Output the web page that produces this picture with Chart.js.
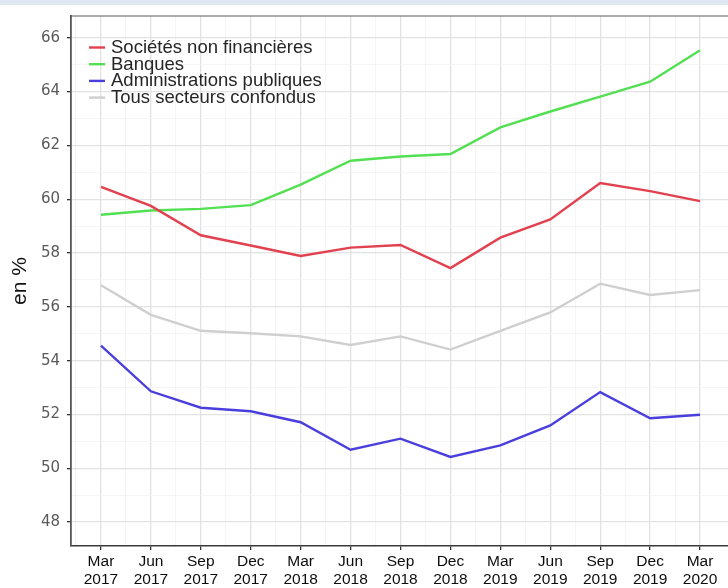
<!DOCTYPE html>
<html>
<head>
<meta charset="utf-8">
<script src="https://cdn.jsdelivr.net/npm/chart.js@4.4.1/dist/chart.umd.min.js"></script>
<style>
  html, body { margin: 0; padding: 0; background: #ffffff; overflow: hidden; }
  #wrap { position: relative; width: 728px; height: 588px; }
  #band { position: absolute; left: 0; top: 0; width: 728px; height: 5px; background: #dfe7f3; z-index: 2; }
</style>
</head>
<body>
<div id="wrap">
  <div id="band"></div>
  <canvas id="c" width="728" height="588"></canvas>
</div>
<script>
// ---- data ----
const categories = [
  ['Mar','2017'],['Jun','2017'],['Sep','2017'],['Dec','2017'],
  ['Mar','2018'],['Jun','2018'],['Sep','2018'],['Dec','2018'],
  ['Mar','2019'],['Jun','2019'],['Sep','2019'],['Dec','2019'],
  ['Mar','2020']
];
const seriesNames = ['Sociétés non financières','Banques','Administrations publiques','Tous secteurs confondus'];
const societesNonFin = [60.46,59.75,58.66,58.28,57.89,58.20,58.30,57.44,58.57,59.25,60.60,60.30,59.93];
const banques        = [59.42,59.58,59.64,59.78,60.54,61.43,61.59,61.68,62.67,63.26,63.81,64.37,65.54];
const adminPubliques = [54.56,52.86,52.25,52.12,51.71,50.69,51.10,50.42,50.85,51.59,52.83,51.86,51.99];
const tousSecteurs   = [56.80,55.70,55.11,55.02,54.90,54.58,54.90,54.41,55.11,55.79,56.86,56.44,56.62];
const yTickValues = [48,50,52,54,56,58,60,62,64,66];
const yAxisTitle = 'en %';

const colors = ['#e2414f','#52e052','#4a3fdc','#cfcfcf'];
const seriesData = [societesNonFin, banques, adminPubliques, tousSecteurs];

const datasets = seriesData.map((arr, k) => ({
  label: seriesNames[k],
  data: arr.map((v, i) => ({x: i, y: v})),
  borderColor: colors[k],
  backgroundColor: colors[k],
  borderWidth: 2.4,
  pointRadius: 0,
  tension: 0,
  fill: false,
  order: k === 3 ? 10 : k
}));

const isMajorX = v => Math.abs(v - Math.round(v)) < 1e-6;
const isMajorY = v => yTickValues.includes(v);

const insideLegend = {
  id: 'insideLegend',
  afterDatasetsDraw(chart) {
    const ctx = chart.ctx;
    ctx.save();
    ctx.font = '18.5px "Liberation Sans", Arial, sans-serif';
    ctx.textBaseline = 'middle';
    ctx.textAlign = 'left';
    const x0 = 89, y0 = 47.5, dy = 16.7;
    chart.data.datasets.forEach((d, k) => {
      const y = y0 + k * dy;
      ctx.strokeStyle = d.borderColor;
      ctx.lineWidth = 2.4;
      ctx.beginPath();
      ctx.moveTo(x0, y);
      ctx.lineTo(x0 + 16, y);
      ctx.stroke();
      ctx.fillStyle = '#262626';
      ctx.fillText(d.label, x0 + 22, y + 0.5);
    });
    ctx.restore();
  }
};

const topBorder = {
  id: 'topBorder',
  afterDraw(chart) {
    const a = chart.chartArea, ctx = chart.ctx;
    ctx.save();
    ctx.strokeStyle = '#5a5a5a';
    ctx.lineWidth = 1.2;
    ctx.beginPath();
    ctx.moveTo(a.left, a.top);
    ctx.lineTo(a.right, a.top);
    ctx.stroke();
    ctx.restore();
  }
};

new Chart(document.getElementById('c'), {
  type: 'line',
  data: { datasets },
  options: {
    responsive: false,
    animation: false,
    layout: { padding: { top: 13, left: 0, right: 0, bottom: 0 } },
    plugins: { legend: { display: false }, tooltip: { enabled: false } },
    scales: {
      x: {
        type: 'linear',
        min: -0.6,
        max: 12.56,
        afterBuildTicks: s => {
          const t = [{value: -0.5}];
          for (let i = 0; i < categories.length; i++) {
            t.push({value: i});
            if (i < categories.length - 1) t.push({value: i + 0.5});
          }
          s.ticks = t;
        },
        afterFit: s => { s.height = 42; },
        ticks: {
          autoSkip: false,
          maxRotation: 0,
          padding: 2,
          color: '#0d0d0d',
          font: { family: '"Liberation Sans", Arial, sans-serif', size: 15.5 },
          callback: v => isMajorX(v) ? categories[Math.round(v)] : ''
        },
        grid: {
          color: c => (c.tick && isMajorX(c.tick.value)) ? '#e2e2e2' : '#f2f2f2',
          lineWidth: c => (c.tick && isMajorX(c.tick.value)) ? 1.3 : 0.8,
          tickColor: c => (c.tick && isMajorX(c.tick.value)) ? '#333333' : 'rgba(0,0,0,0)',
          tickLength: 4
        },
        border: { display: true, color: '#3a3a3a', width: 1.6 }
      },
      y: {
        type: 'linear',
        min: 47.11,
        max: 66.81,
        afterBuildTicks: s => {
          const t = [];
          for (let v = 48; v <= 66; v++) t.push({value: v});
          s.ticks = t;
        },
        afterFit: s => { s.width = 71; },
        ticks: {
          padding: 7,
          color: '#5a5a5a',
          font: { family: '"DejaVu Sans", sans-serif', size: 15 },
          callback: v => isMajorY(v) ? String(v) : ''
        },
        grid: {
          color: c => (c.tick && isMajorY(c.tick.value)) ? '#e2e2e2' : '#f2f2f2',
          lineWidth: c => (c.tick && isMajorY(c.tick.value)) ? 1.3 : 0.8,
          tickColor: c => (c.tick && isMajorY(c.tick.value)) ? '#333333' : 'rgba(0,0,0,0)',
          tickLength: 4
        },
        border: { display: true, color: '#555555', width: 1.8 },
        title: {
          display: true,
          text: yAxisTitle,
          color: '#111111',
          font: { family: '"Liberation Sans", Arial, sans-serif', size: 21 },
          padding: { top: 8, bottom: 0 }
        }
      }
    }
  },
  plugins: [insideLegend, topBorder]
});
</script>
</body>
</html>
